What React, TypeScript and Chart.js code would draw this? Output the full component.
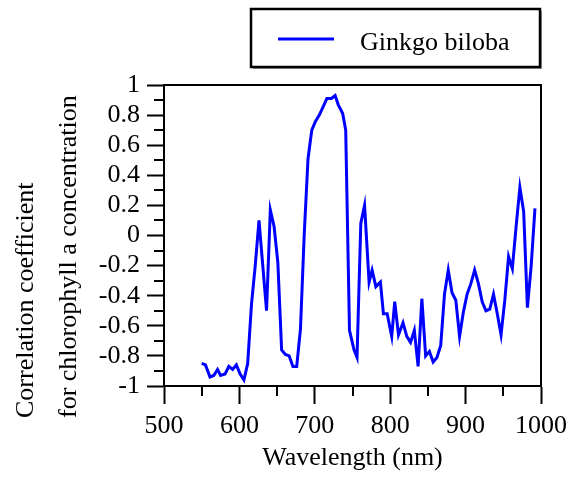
import React, { useEffect, useRef } from "react";
import { Chart, registerables } from "chart.js";

Chart.register(...registerables);

const seriesLabel = "Ginkgo biloba";
const xTitle = "Wavelength (nm)";
const yTitleLines = ["Correlation coefficient", "for chlorophyll a concentration"];

const wavelengths = [
  550, 555, 561, 566, 571, 575, 581, 586, 591, 596, 601, 606, 611, 616, 621, 626, 631, 636, 641, 646,
  651, 656, 661, 666, 671, 676, 681, 686, 691, 696, 701, 706, 711, 716, 722, 727, 731, 737, 741, 746,
  752, 756, 761, 766, 772, 776, 781, 787, 791, 796, 802, 806, 811, 817, 822, 827, 832, 837, 842, 847,
  852, 857, 862, 867, 872, 877, 882, 887, 892, 897, 902, 907, 912, 917, 922, 927, 932, 937, 942, 947,
  952, 957, 962, 967, 972, 977, 982, 987, 992,
];

const correlation = [
  -0.85, -0.86, -0.94, -0.93, -0.89, -0.93, -0.92, -0.87, -0.89, -0.86, -0.92, -0.96, -0.85, -0.46, -0.2, 0.1, -0.2, -0.5, 0.17, 0.06,
  -0.18, -0.76, -0.79, -0.8, -0.87, -0.87, -0.62, 0.01, 0.51, 0.7, 0.76, 0.8, 0.855, 0.91, 0.91, 0.93, 0.87, 0.81, 0.7, -0.63,
  -0.76, -0.81, 0.08, 0.2, -0.31, -0.23, -0.34, -0.31, -0.52, -0.52, -0.67, -0.44, -0.66, -0.58, -0.67, -0.71, -0.63, -0.87, -0.42, -0.8,
  -0.77, -0.84, -0.81, -0.73, -0.39, -0.23, -0.38, -0.43, -0.67, -0.51, -0.39, -0.32, -0.23, -0.32, -0.44, -0.5, -0.49, -0.39, -0.52, -0.66,
  -0.43, -0.14, -0.22, 0.06, 0.32, 0.16, -0.48, -0.2, 0.18,
];

const xMinorTicks = [550, 650, 750, 850, 950];
const yMinorTicks = [-0.9, -0.7, -0.5, -0.3, -0.1, 0.1, 0.3, 0.5, 0.7, 0.9];

const FONT = "'Liberation Serif', 'Times New Roman', serif";
const FONT_SIZE = 26;
const LINE_COLOR = "#0000ff";

Chart.defaults.font.family = FONT;
Chart.defaults.font.size = FONT_SIZE;
Chart.defaults.color = "#000";

const framePlugin = {
  id: "frameAndExtras",
  afterDraw(chart: any) {
    const { ctx, chartArea, scales } = chart;
    const { left, right, top, bottom } = chartArea;
    const xs = scales.x;
    const ys = scales.y;
    ctx.save();
    ctx.strokeStyle = "#000";
    ctx.lineWidth = 2;
    ctx.beginPath();
    ctx.moveTo(left - 1, top);
    ctx.lineTo(right, top);
    ctx.lineTo(right, bottom);
    ctx.stroke();
    ctx.beginPath();
    for (const v of xMinorTicks) {
      const px = Math.round(xs.getPixelForValue(v));
      ctx.moveTo(px, bottom);
      ctx.lineTo(px, bottom + 10);
    }
    for (const v of yMinorTicks) {
      const py = Math.round(ys.getPixelForValue(v));
      ctx.moveTo(left, py);
      ctx.lineTo(left - 10, py);
    }
    ctx.stroke();

    ctx.fillStyle = "#000";
    ctx.font = `${FONT_SIZE}px ${FONT}`;
    ctx.textAlign = "left";
    ctx.textBaseline = "alphabetic";
    const baseXs = [33, 76];
    yTitleLines.forEach((line, i) => {
      ctx.save();
      ctx.translate(baseXs[i], bottom + 32);
      ctx.rotate(-Math.PI / 2);
      ctx.fillText(line, 0, 0);
      ctx.restore();
    });

    const ds = chart.data.datasets[0];
    const bx = 251;
    const by = 9;
    const bw = right - 1 - bx;
    const bh = 58;
    ctx.fillStyle = "#9a9a9a";
    ctx.fillRect(bx + 2, by + 2, bw, bh);
    ctx.fillStyle = "#fff";
    ctx.fillRect(bx, by, bw, bh);
    ctx.strokeStyle = "#000";
    ctx.lineWidth = 2.5;
    ctx.strokeRect(bx, by, bw, bh);
    ctx.strokeStyle = ds.borderColor;
    ctx.lineWidth = 3;
    ctx.beginPath();
    ctx.moveTo(bx + 27, by + 30);
    ctx.lineTo(bx + 83, by + 30);
    ctx.stroke();
    ctx.fillStyle = "#000";
    ctx.font = `${FONT_SIZE}px ${FONT}`;
    ctx.textAlign = "left";
    ctx.textBaseline = "alphabetic";
    ctx.fillText(ds.label, bx + 109, by + 41);
    ctx.restore();
  },
};

export default function App() {
  const canvasRef = useRef<HTMLCanvasElement | null>(null);

  useEffect(() => {
    document.body.style.margin = "0";
    const canvas = canvasRef.current;
    if (!canvas) return;
    const chart = new Chart(canvas, {
      type: "line",
      data: {
        datasets: [
          {
            label: seriesLabel,
            data: wavelengths.map((w, i) => ({ x: w, y: correlation[i] })),
            borderColor: LINE_COLOR,
            backgroundColor: LINE_COLOR,
            borderWidth: 3,
            pointRadius: 0,
            tension: 0,
            fill: false,
          },
        ],
      },
      options: {
        animation: false,
        responsive: false,
        maintainAspectRatio: false,
        layout: { padding: { left: 0, right: 37, top: 85, bottom: 0 } },
        plugins: {
          legend: { display: false },
          tooltip: { enabled: false },
          title: { display: false },
        },
        scales: {
          x: {
            type: "linear",
            min: 500,
            max: 1000,
            afterFit: (s: any) => {
              s.height = 94;
            },
            ticks: {
              stepSize: 100,
              autoSkip: false,
              color: "#000",
              padding: 7,
              maxRotation: 0,
              font: { family: FONT, size: FONT_SIZE },
              callback: (v: any) => String(Math.round(Number(v))),
            },
            grid: {
              display: true,
              drawOnChartArea: false,
              drawTicks: true,
              tickLength: 18,
              tickColor: "#000",
              tickWidth: 2,
              color: "#000",
            },
            border: { display: true, color: "#000", width: 2 },
            title: {
              display: true,
              text: xTitle,
              color: "#000",
              font: { family: FONT, size: FONT_SIZE },
              padding: { top: 0, bottom: 6 },
            },
          },
          y: {
            type: "linear",
            min: -1,
            max: 1,
            afterFit: (s: any) => {
              s.width = 164;
            },
            ticks: {
              stepSize: 0.2,
              autoSkip: false,
              color: "#000",
              padding: 7,
              font: { family: FONT, size: FONT_SIZE },
              callback: (v: any) => String(Number(Number(v).toFixed(1))),
            },
            grid: {
              display: true,
              drawOnChartArea: false,
              drawTicks: true,
              tickLength: 17,
              tickColor: "#000",
              tickWidth: 2,
              color: "#000",
            },
            border: { display: true, color: "#000", width: 2 },
          },
        },
      },
      plugins: [framePlugin],
    });
    return () => chart.destroy();
  }, []);

  return (
    <div style={{ width: 578, height: 480 }}>
      <canvas ref={canvasRef} width={578} height={480} style={{ display: "block" }} />
    </div>
  );
}
